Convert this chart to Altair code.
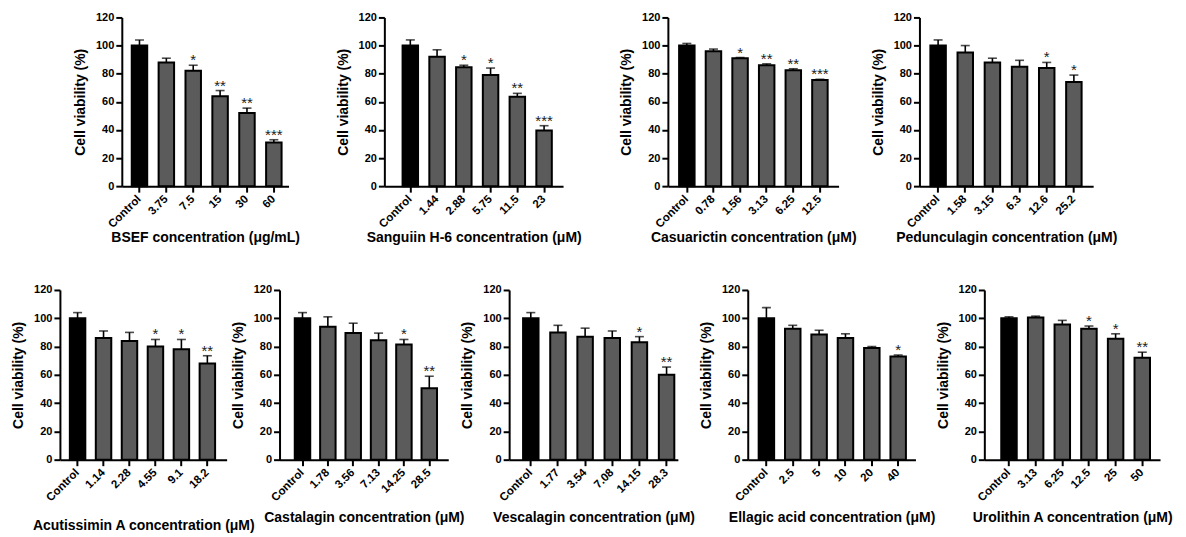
import altair as alt
import pandas as pd

# ---------------- data ----------------
bsef_doses = ["Control", "3.75", "7.5", "15", "30", "60"]
bsef_mean = [100, 88, 82, 64, 52, 31]
bsef_sd = [4, 3, 4, 4, 3.5, 2]
bsef_sig = ["", "", "*", "**", "**", "***"]

sang_doses = ["Control", "1.44", "2.88", "5.75", "11.5", "23"]
sang_mean = [100, 92, 84.5, 79, 63.5, 39.5]
sang_sd = [4, 5, 1.5, 5, 2.5, 3.5]
sang_sig = ["", "", "*", "*", "**", "***"]

casu_doses = ["Control", "0.78", "1.56", "3.13", "6.25", "12.5"]
casu_mean = [100, 96, 91, 86, 82.5, 75.5]
casu_sd = [1.5, 1.5, 0.5, 1, 1, 0.5]
casu_sig = ["", "", "*", "**", "**", "***"]

pedu_doses = ["Control", "1.58", "3.15", "6.3", "12.6", "25.2"]
pedu_mean = [100, 95, 88, 85, 84, 74]
pedu_sd = [4, 5, 3, 4.5, 4, 5]
pedu_sig = ["", "", "", "", "*", "*"]

acut_doses = ["Control", "1.14", "2.28", "4.55", "9.1", "18.2"]
acut_mean = [100, 86, 84, 80, 78, 68]
acut_sd = [4, 5, 6, 5, 7, 5.5]
acut_sig = ["", "", "", "*", "*", "**"]

cast_doses = ["Control", "1.78", "3.56", "7.13", "14.25", "28.5"]
cast_mean = [100, 94, 89.5, 84.5, 81.5, 50.5]
cast_sd = [4, 7, 7, 5, 3.5, 8.5]
cast_sig = ["", "", "", "", "*", "**"]

vesc_doses = ["Control", "1.77", "3.54", "7.08", "14.15", "28.3"]
vesc_mean = [100, 90, 87, 86, 83, 60]
vesc_sd = [4, 5, 6, 5, 4, 5.5]
vesc_sig = ["", "", "", "", "*", "**"]

ella_doses = ["Control", "2.5", "5", "10", "20", "40"]
ella_mean = [100, 92.5, 88.5, 86, 79, 73]
ella_sd = [7.5, 2.5, 3, 3, 1, 1]
ella_sig = ["", "", "", "", "", "*"]

urol_doses = ["Control", "3.13", "6.25", "12.5", "25", "50"]
urol_mean = [100, 100.5, 95.5, 92.5, 85.5, 72]
urol_sd = [1, 1, 3, 2, 3.5, 4]
urol_sig = ["", "", "", "*", "*", "**"]

y_ticks = [0, 20, 40, 60, 80, 100, 120]
y_title = "Cell viability  (%)"

# ---------------- style ----------------
FONT = "Liberation Sans"
BAND = 15.5
TOP_H = 169
BOT_H = 170


def panel(doses, means, sds, sigs, title, width, height, first_c, last_c, title_pad):
    df = pd.DataFrame({
        "dose": doses,
        "mean": means,
        "hi": [m + s for m, s in zip(means, sds)],
        "sig": sigs,
        "grp": ["control"] + ["treated"] * (len(doses) - 1),
    })
    n = len(doses)
    step = (last_c - first_c) / (n - 1)
    p_inner = 1 - BAND / step
    left = first_c - BAND / 2
    right = width - last_c - BAND / 2
    p_outer = (left + right) / (2 * step)
    align = left / (left + right)
    xenc = alt.X(
        "dose:N", sort=doses,
        scale=alt.Scale(paddingInner=p_inner, paddingOuter=p_outer, align=align),
        axis=alt.Axis(title=title, labelAngle=-45, labelAlign="right",
                      labelBaseline="middle", labelPadding=5, titlePadding=title_pad),
    )
    yscale = alt.Scale(domain=[0, 120], nice=False)
    yaxis = alt.Axis(title=y_title, values=y_ticks)
    base = alt.Chart(df).encode(x=xenc)
    bars = base.mark_bar(stroke="black", strokeWidth=2).encode(
        y=alt.Y("mean:Q", scale=yscale, axis=yaxis),
        color=alt.Color("grp:N", scale=alt.Scale(domain=["control", "treated"],
                                                  range=["#000000", "#5b5b5b"]),
                        legend=None),
    )
    whisk = base.mark_rule(color="black", strokeWidth=1.6).encode(
        y=alt.Y("mean:Q", axis=yaxis), y2="hi:Q")
    cap = base.mark_tick(color="black", thickness=1.6, size=9).encode(
        y=alt.Y("hi:Q", axis=yaxis))
    stars = base.mark_text(baseline="alphabetic", dy=0, fontSize=15, font=FONT,
                           color="#222222").encode(
        y=alt.Y("hi:Q", axis=yaxis), text="sig:N")
    return alt.layer(bars, whisk, cap, stars).properties(width=width, height=height)


def spacer(w, h):
    return alt.Chart(pd.DataFrame({"v": pd.Series([], dtype=float)})).mark_point().encode(
        x=alt.X("v:Q", axis=None), y=alt.Y("v:Q", axis=None)
    ).properties(width=w, height=h)


p1 = panel(bsef_doses, bsef_mean, bsef_sd, bsef_sig, "BSEF concentration (μg/mL)", 167, TOP_H, 17.7, 152.3, 1)
p2 = panel(sang_doses, sang_mean, sang_sd, sang_sig, "Sanguiin H-6 concentration (μM)", 179, TOP_H, 26, 160, 1)
p3 = panel(casu_doses, casu_mean, casu_sd, casu_sig, "Casuarictin concentration (μM)", 171, TOP_H, 19, 152.3, 1)
p4 = panel(pedu_doses, pedu_mean, pedu_sd, pedu_sig, "Pedunculagin concentration (μM)", 174, TOP_H, 18.7, 154.7, 1)
p5 = panel(acut_doses, acut_mean, acut_sd, acut_sig, "Acutissimin A concentration (μM)", 167, BOT_H, 17.7, 147.7, 15)
p6 = panel(cast_doses, cast_mean, cast_sd, cast_sig, "Castalagin concentration (μM)", 169, BOT_H, 23, 150, 7)
p7 = panel(vesc_doses, vesc_mean, vesc_sd, vesc_sig, "Vescalagin concentration (μM)", 169, BOT_H, 21.7, 157.7, 7)
p8 = panel(ella_doses, ella_mean, ella_sd, ella_sig, "Ellagic acid concentration (μM)", 168, BOT_H, 18.7, 150.7, 7)
p9 = panel(urol_doses, urol_mean, urol_sd, urol_sig, "Urolithin A concentration (μM)", 176, BOT_H, 24.7, 158.2, 7)

top_row = alt.hconcat(
    spacer(62, TOP_H), p1, spacer(96, TOP_H), p2, spacer(105, TOP_H), p3, spacer(81, TOP_H), p4,
    spacing=0, bounds="flush",
)
bottom_row = alt.hconcat(
    p5, spacer(53, BOT_H), p6, spacer(61, BOT_H), p7, spacer(70, BOT_H), p8, spacer(69, BOT_H), p9,
    spacing=0, bounds="flush",
)

# with flush bounds the nested row counts as zero height, so the spacing is the row offset
chart = alt.vconcat(top_row, bottom_row, spacing=273, bounds="flush").properties(
    padding={"left": 3, "top": 3, "right": 5, "bottom": 5}
).configure_view(stroke=None).configure_axis(
    domainColor="black", domainWidth=2, tickColor="black", tickWidth=2, tickSize=6,
    labelFont=FONT, labelFontWeight="bold", labelColor="black", labelPadding=2,
    titleFont=FONT, titleFontWeight="bold", titleColor="black", titleFontSize=14,
    grid=False, labelOverlap=False,
).configure_axisY(labelFontSize=11, titlePadding=8).configure_axisX(labelFontSize=11.5)

chart.save("out.html", embed_options={"renderer": "svg", "actions": False})
